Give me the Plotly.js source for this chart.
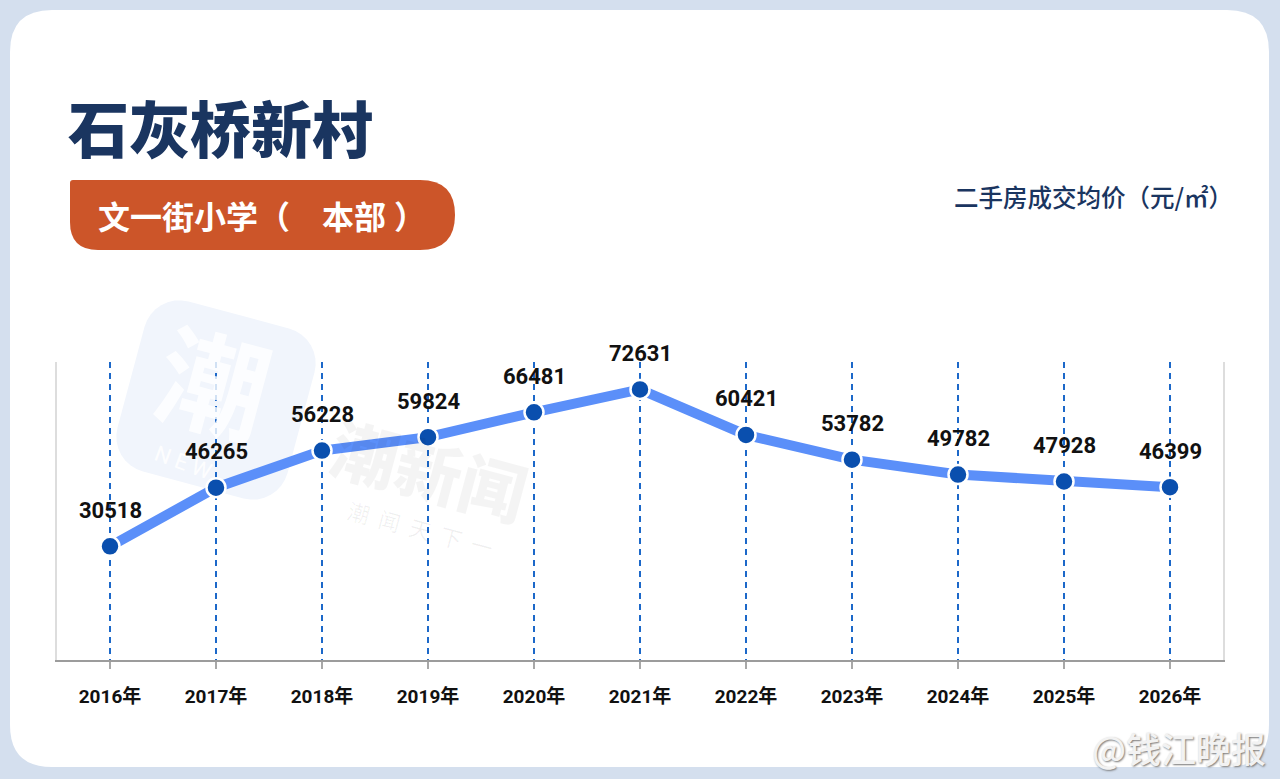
<!DOCTYPE html>
<html>
<head>
<meta charset="utf-8">
<script src="https://cdn.plot.ly/plotly-3.0.1.min.js"></script>
<style>
html,body{margin:0;padding:0;background:#d4dfee;}
#chart{width:1280px;height:779px;}
</style>
</head>
<body>
<div id="chart"></div>
<script>
// ---- data ----
const years = ['2016年','2017年','2018年','2019年','2020年','2021年','2022年','2023年','2024年','2025年','2026年'];
const prices = [30518, 46265, 56228, 59824, 66481, 72631, 60421, 53782, 49782, 47928, 46399];
const chartTitle = '石灰桥新村';
const schoolName = '文一街小学（\u3000本部\u2005）';
const unitLabel = '二手房成交均价（元/㎡）';
const sourceLabel = '@钱江晚报';

// ---- layout helpers (pixel -> paper) ----
const W = 1280, H = 779;
const ML = 57, MR = 57, MT = 362, MB = 119;
const PW = W - ML - MR, PH = H - MT - MB;
const px = x => (x - ML) / PW;
const py = y => (H - MB - y) / PH;
const P = (x, y) => px(x).toFixed(5) + ',' + py(y).toFixed(5);

function roundRect(x0, y0, x1, y1, rtl, rtr, rbr, rbl) {
  return 'M' + P(x0 + rtl, y0) +
    ' L' + P(x1 - rtr, y0) + ' Q' + P(x1, y0) + ' ' + P(x1, y0 + rtr) +
    ' L' + P(x1, y1 - rbr) + ' Q' + P(x1, y1) + ' ' + P(x1 - rbr, y1) +
    ' L' + P(x0 + rbl, y1) + ' Q' + P(x0, y1) + ' ' + P(x0, y1 - rbl) +
    ' L' + P(x0, y0 + rtl) + ' Q' + P(x0, y0) + ' ' + P(x0 + rtl, y0) + ' Z';
}

function rotatedRoundSquare(cx, cy, half, r, angDeg) {
  const a = angDeg * Math.PI / 180;
  const pts = [];
  const corners = [[half - r, -half + r, -90], [half - r, half - r, 0], [-half + r, half - r, 90], [-half + r, -half + r, 180]];
  corners.forEach(c => {
    for (let k = 0; k <= 8; k++) {
      const t = (c[2] + k * 90 / 8) * Math.PI / 180;
      const lx = c[0] + r * Math.cos(t), ly = c[1] + r * Math.sin(t);
      const rx = lx * Math.cos(a) - ly * Math.sin(a), ry = lx * Math.sin(a) + ly * Math.cos(a);
      pts.push(P(cx + rx, cy + ry));
    }
  });
  return 'M' + pts.join(' L') + ' Z';
}

const navy = '#1a3560';
const numFont = "Roboto, 'Noto Sans CJK SC', sans-serif";

const trace = {
  type: 'scatter',
  mode: 'lines+markers',
  x: years,
  y: prices,
  line: {color: '#5b8ff9', width: 10},
  marker: {color: '#0a4fae', size: 19, line: {color: '#ffffff', width: 2.5}},
  hoverinfo: 'skip',
  cliponaxis: false
};

const labelAnnotations = years.map((yr, i) => ({
  x: yr, y: prices[i], xref: 'x', yref: 'y', xanchor: 'center', yanchor: 'middle',
  text: String(prices[i]), showarrow: false, yshift: 36,
  font: {family: numFont, size: 22, color: '#111111', weight: 700}
}));

const wm = (x, y, text, angle, font) => ({
  xref: 'paper', yref: 'paper', x: px(x), y: py(y), xanchor: 'center', yanchor: 'middle',
  text: text, textangle: angle, showarrow: false, font: font
});

const layout = {
  width: W, height: H,
  margin: {l: ML, r: MR, t: MT, b: MB, pad: 0},
  paper_bgcolor: '#d4dfee',
  plot_bgcolor: 'rgba(0,0,0,0)',
  showlegend: false,
  xaxis: {
    type: 'category',
    range: [-0.5, 10.5],
    showgrid: true, gridcolor: '#1c68c9', gridwidth: 1.6, griddash: '6px,5px',
    showline: true, linecolor: '#9c9c9c', linewidth: 2,
    ticks: 'outside', ticklen: 7, tickwidth: 1.5, tickcolor: '#a8a8a8',
    ticklabelstandoff: 11,
    tickfont: {family: numFont, size: 19, color: '#111111', weight: 700},
    zeroline: false, fixedrange: true
  },
  yaxis: {
    range: [0, 80000],
    showgrid: false, zeroline: false, showticklabels: false, ticks: '',
    showline: true, mirror: true, linecolor: '#dddddd', linewidth: 2,
    fixedrange: true
  },
  shapes: [
    {type: 'path', xref: 'paper', yref: 'paper', layer: 'below',
     path: roundRect(10, 10, 1269, 767, 42, 42, 42, 42),
     fillcolor: '#ffffff', line: {width: 0}},
    {type: 'path', xref: 'paper', yref: 'paper', layer: 'below',
     path: rotatedRoundSquare(216, 400, 88, 36, 15),
     fillcolor: '#f1f5fc', line: {width: 0}},
    {type: 'path', xref: 'paper', yref: 'paper', layer: 'below',
     path: roundRect(70, 180, 455, 250, 3, 35, 35, 28),
     fillcolor: '#cc5529', line: {width: 0}}
  ],
  annotations: [
    wm(215, 378, '潮', 15, {family: "'Noto Sans CJK SC'", size: 110, color: 'rgba(255,255,255,0.8)', weight: 700}),
    wm(183, 462, 'N E W', 20, {family: 'Roboto', size: 22, color: 'rgba(255,255,255,0.9)'}),
    wm(430, 468, '潮新闻', 15, {family: "'Noto Sans CJK SC'", size: 66, color: 'rgba(0,0,0,0.045)', weight: 900}),
    wm(420, 528, '潮  闻  天  下  一', 15, {family: "'Noto Sans CJK SC'", size: 22, color: 'rgba(0,0,0,0.06)'}),
    {xref: 'paper', yref: 'paper', x: px(66), y: py(126), xanchor: 'left', yanchor: 'middle',
     text: chartTitle, showarrow: false,
     font: {family: "'Noto Sans CJK SC'", size: 61, color: navy, weight: 900}},
    {xref: 'paper', yref: 'paper', x: px(96), y: py(215), xanchor: 'left', yanchor: 'middle',
     text: schoolName, showarrow: false,
     font: {family: "'Noto Sans CJK SC'", size: 32, color: '#ffffff', weight: 700}},
    {xref: 'paper', yref: 'paper', x: px(1235), y: py(196), xanchor: 'right', yanchor: 'middle',
     text: unitLabel, showarrow: false,
     font: {family: "'Noto Sans CJK SC'", size: 24.5, color: navy, weight: 500}},
    {xref: 'paper', yref: 'paper', x: px(1268), y: py(747), xanchor: 'right', yanchor: 'middle',
     text: sourceLabel, showarrow: false,
     font: {family: "'Noto Sans CJK SC'", size: 35, color: '#f2f2f2', weight: 500, shadow: '1px 1px 2px #777'}}
  ].concat(labelAnnotations)
};

Plotly.newPlot('chart', [trace], layout, {displayModeBar: false, staticPlot: true});
</script>
</body>
</html>
